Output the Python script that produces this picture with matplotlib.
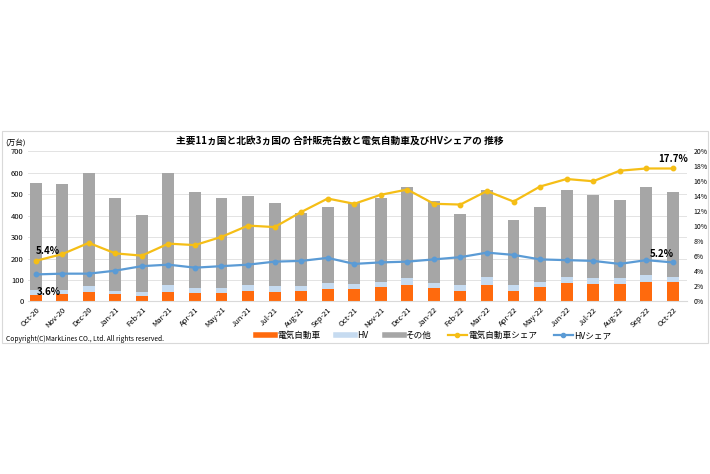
import matplotlib.pyplot as plt
from matplotlib.patches import Rectangle
from matplotlib.lines import Line2D
import numpy as np

plt.rcParams['font.family'] = ['Noto Sans CJK JP', 'DejaVu Sans']

months = ['Oct-20', 'Nov-20', 'Dec-20', 'Jan-21', 'Feb-21', 'Mar-21', 'Apr-21', 'May-21',
          'Jun-21', 'Jul-21', 'Aug-21', 'Sep-21', 'Oct-21', 'Nov-21', 'Dec-21', 'Jan-22',
          'Feb-22', 'Mar-22', 'Apr-22', 'May-22', 'Jun-22', 'Jul-22', 'Aug-22', 'Sep-22', 'Oct-22']

# 万台
total = [554, 548, 598, 480, 404, 598, 508, 484, 489, 461, 410, 438, 458, 483, 533, 469,
         408, 520, 379, 438, 517, 498, 474, 534, 508]
ev = [28, 37, 45, 33, 26, 45, 39, 40, 47, 43, 47, 59, 57, 67, 79, 61,
      51, 79, 51, 68, 85, 82, 81, 93, 92]
hv = [25, 17, 25, 14, 19, 30, 25, 24, 28, 27, 23, 26, 24, 26, 28, 26,
      28, 33, 25, 24, 27, 27, 26, 31, 24]

# %
ev_share = [5.4, 6.3, 7.8, 6.4, 6.1, 7.7, 7.5, 8.6, 10.1, 9.9, 11.9, 13.7, 13.0, 14.2, 14.9, 13.0,
            12.9, 14.7, 13.3, 15.3, 16.3, 16.0, 17.4, 17.7, 17.7]
hv_share = [3.6, 3.7, 3.7, 4.1, 4.7, 4.9, 4.5, 4.7, 4.9, 5.3, 5.4, 5.8, 5.0, 5.2, 5.3, 5.6,
            5.9, 6.5, 6.2, 5.6, 5.5, 5.4, 5.0, 5.5, 5.2]

c_ev = '#FF6A0D'
c_hv = '#C6DBF0'
c_other = '#A6A6A6'
c_evs = '#F5BE16'
c_hvs = '#5B9BD5'

x = np.arange(len(months))
ev = np.array(ev)
hv = np.array(hv)
other = np.array(total) - ev - hv

fig = plt.figure(figsize=(7.1, 4.74), dpi=100)
ax = fig.add_axes([0.0394, 0.364, 0.928, 0.317])
ax2 = ax.twinx()

w = 0.45
ax.bar(x, ev, w, color=c_ev, zorder=2)
ax.bar(x, hv, w, bottom=ev, color=c_hv, zorder=2)
ax.bar(x, other, w, bottom=ev + hv, color=c_other, zorder=2)

ax.set_ylim(0, 700)
ax.set_yticks(range(0, 701, 100))
ax.set_xlim(-0.29, 24.53)
ax.set_xticks(x)
ax.set_xticklabels(months, rotation=45, ha='right', rotation_mode='anchor', fontsize=5.5)
ax.tick_params(axis='y', labelsize=5.5, length=0, pad=3)
ax.tick_params(axis='x', length=0, pad=3)
ax.grid(axis='y', color='#E3E3E3', linewidth=0.7, zorder=0)
ax.set_axisbelow(True)

ax2.plot(x, ev_share, color=c_evs, lw=1.6, marker='o', ms=3.2, zorder=3)
ax2.plot(x, hv_share, color=c_hvs, lw=1.6, marker='o', ms=3.2, zorder=3)
ax2.set_ylim(0, 20)
ax2.set_yticks(range(0, 21, 2))
ax2.set_yticklabels([f'{v}%' for v in range(0, 21, 2)])
ax2.tick_params(axis='y', labelsize=5, length=0, pad=5)

for a in (ax, ax2):
    for s in a.spines.values():
        s.set_visible(False)
ax.spines['bottom'].set_visible(True)
ax.spines['bottom'].set_color('#D9D9D9')

ax2.text(0, ev_share[0] + 0.6, f'{ev_share[0]}%', ha='left', va='bottom', fontsize=7, fontweight='bold')
ax2.text(0.05, hv_share[0] - 2.4, f'{hv_share[0]}%', ha='left', va='center', fontsize=7, fontweight='bold')
ax2.text(24, ev_share[-1] + 0.6, f'{ev_share[-1]}%', ha='center', va='bottom', fontsize=7, fontweight='bold')
ax2.text(23.6, hv_share[-1] + 0.5, f'{hv_share[-1]}%', ha='center', va='bottom', fontsize=7, fontweight='bold')

fig.text(0.479, 0.702, '主要11ヵ国と北欧3ヵ国の 合計販売台数と電気自動車及びHVシェアの 推移',
         ha='center', va='center', fontsize=7, fontweight='bold')
fig.text(0.008, 0.700, '(万台)', ha='left', va='center', fontsize=5.5)
fig.text(0.008, 0.285, 'Copyright(C)MarkLines CO., Ltd. All rights reserved.',
         ha='left', va='center', fontsize=4.8)

handles = [
    Line2D([], [], color=c_ev, lw=4),
    Line2D([], [], color=c_hv, lw=4),
    Line2D([], [], color=c_other, lw=4),
    Line2D([], [], color=c_evs, lw=1.6, marker='o', ms=3),
    Line2D([], [], color=c_hvs, lw=1.6, marker='o', ms=3),
]
labels = ['電気自動車', 'HV', 'その他', '電気自動車シェア', 'HVシェア']
fig.legend(handles, labels, loc='center', bbox_to_anchor=(0.611, 0.292), ncol=5,
           frameon=False, fontsize=6.2, handlelength=2.2, handletextpad=0.2, columnspacing=1.9)

fig.patches.append(Rectangle((0.003, 0.276), 0.994, 0.447, transform=fig.transFigure,
                             fill=False, edgecolor='#D9D9D9', lw=0.8))

fig.savefig('out.png', dpi=100)
